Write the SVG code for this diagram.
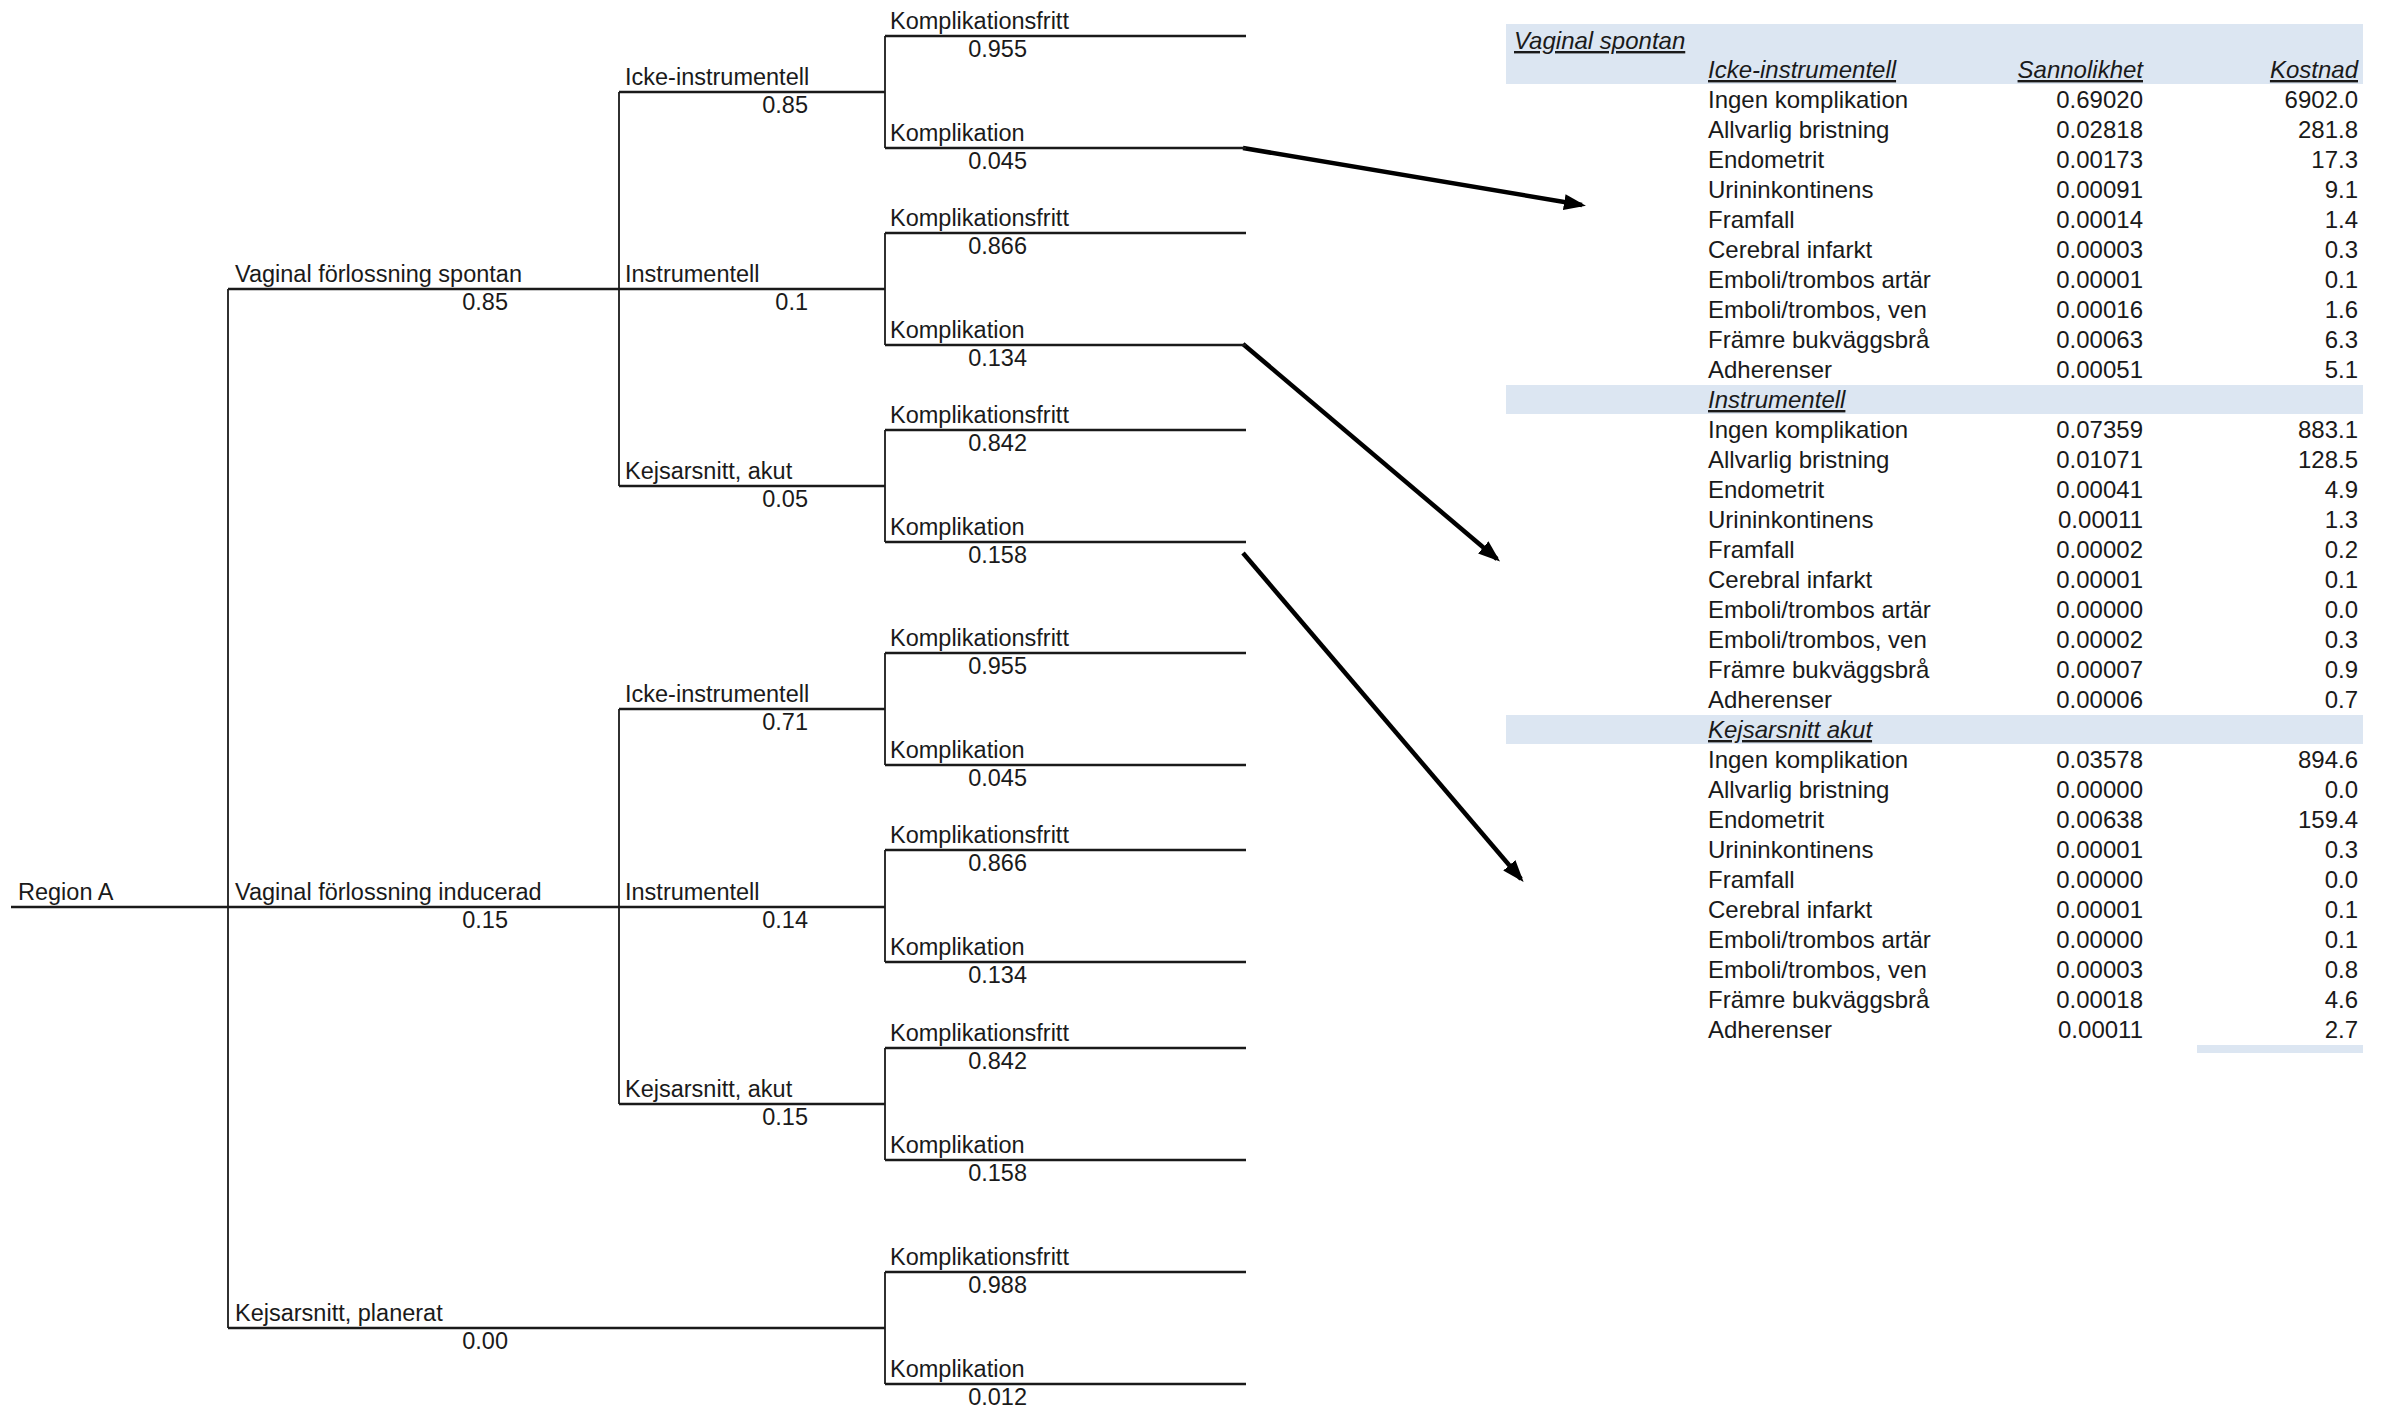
<svg xmlns="http://www.w3.org/2000/svg" width="2386" height="1409" viewBox="0 0 2386 1409">
<style>
.t{font-family:"Liberation Sans",Arial,sans-serif;font-size:23.5px;fill:#1a1a1a}
.v{font-family:"Liberation Sans",Arial,sans-serif;font-size:23.5px;fill:#1a1a1a;text-anchor:end}
.h{stroke:#1a1a1a;stroke-width:2.5;fill:none}
.vl{stroke:#1a1a1a;stroke-width:1.8;fill:none}
.tb{font-family:"Liberation Sans",Arial,sans-serif;font-size:24px;fill:#1a1a1a}
.tn{font-family:"Liberation Sans",Arial,sans-serif;font-size:24px;fill:#1a1a1a;text-anchor:end}
.hd{font-style:italic;text-decoration:underline}
.band{fill:#dce6f2}
.arr{stroke:#000;stroke-width:4.5;fill:none}
</style>
<defs>
<marker id="ah" markerUnits="userSpaceOnUse" markerWidth="22" markerHeight="16" viewBox="0 0 22 16" refX="18" refY="8" orient="auto">
<path d="M0,0 L22,8 L0,16 z" fill="#000"/>
</marker>
<clipPath id="lbl"><rect x="1700" y="0" width="240" height="1409"/></clipPath>
</defs>
<rect width="2386" height="1409" fill="#fff"/>

<g id="connectors">
<!-- level 1 -->
<line class="vl" x1="228" y1="289" x2="228" y2="1328"/>
<!-- level 2 -->
<line class="vl" x1="619" y1="92" x2="619" y2="486"/>
<line class="vl" x1="619" y1="709" x2="619" y2="1104"/>
<!-- level 3 verticals -->
<line class="vl" x1="885" y1="36" x2="885" y2="148"/>
<line class="vl" x1="885" y1="233" x2="885" y2="345"/>
<line class="vl" x1="885" y1="430" x2="885" y2="542"/>
<line class="vl" x1="885" y1="653" x2="885" y2="765"/>
<line class="vl" x1="885" y1="850" x2="885" y2="962"/>
<line class="vl" x1="885" y1="1048" x2="885" y2="1160"/>
<line class="vl" x1="885" y1="1272" x2="885" y2="1384"/>
<!-- arrows -->
<line class="arr" x1="1243" y1="148" x2="1582" y2="205" marker-end="url(#ah)"/>
<line class="arr" x1="1243" y1="344" x2="1497" y2="559" marker-end="url(#ah)"/>
<line class="arr" x1="1243" y1="553" x2="1521" y2="879" marker-end="url(#ah)"/>
</g>

<g id="root">
<line class="h" x1="11" y1="907" x2="228" y2="907"/>
<text class="t" x="18" y="900">Region A</text>
</g>

<g id="n-vag-spontan">
<line class="h" x1="228" y1="289" x2="619" y2="289"/>
<text class="t" x="235" y="282">Vaginal förlossning spontan</text>
<text class="v" x="508" y="310">0.85</text>
</g>
<g id="n-vag-inducerad">
<line class="h" x1="228" y1="907" x2="619" y2="907"/>
<text class="t" x="235" y="900">Vaginal förlossning inducerad</text>
<text class="v" x="508" y="928">0.15</text>
</g>
<g id="n-kejs-planerat">
<line class="h" x1="228" y1="1328" x2="885" y2="1328"/>
<text class="t" x="235" y="1321">Kejsarsnitt, planerat</text>
<text class="v" x="508" y="1349">0.00</text>
</g>

<g id="n-s-icke">
<line class="h" x1="619" y1="92" x2="885" y2="92"/>
<text class="t" x="625" y="85">Icke-instrumentell</text>
<text class="v" x="808" y="113">0.85</text>
</g>
<g id="n-s-instr">
<line class="h" x1="619" y1="289" x2="885" y2="289"/>
<text class="t" x="625" y="282">Instrumentell</text>
<text class="v" x="808" y="310">0.1</text>
</g>
<g id="n-s-kejs">
<line class="h" x1="619" y1="486" x2="885" y2="486"/>
<text class="t" x="625" y="479">Kejsarsnitt, akut</text>
<text class="v" x="808" y="507">0.05</text>
</g>
<g id="n-i-icke">
<line class="h" x1="619" y1="709" x2="885" y2="709"/>
<text class="t" x="625" y="702">Icke-instrumentell</text>
<text class="v" x="808" y="730">0.71</text>
</g>
<g id="n-i-instr">
<line class="h" x1="619" y1="907" x2="885" y2="907"/>
<text class="t" x="625" y="900">Instrumentell</text>
<text class="v" x="808" y="928">0.14</text>
</g>
<g id="n-i-kejs">
<line class="h" x1="619" y1="1104" x2="885" y2="1104"/>
<text class="t" x="625" y="1097">Kejsarsnitt, akut</text>
<text class="v" x="808" y="1125">0.15</text>
</g>

<g id="leaf-1a"><line class="h" x1="885" y1="36" x2="1246" y2="36"/><text class="t" x="890" y="29">Komplikationsfritt</text><text class="v" x="1027" y="57">0.955</text></g>
<g id="leaf-1b"><line class="h" x1="885" y1="148" x2="1246" y2="148"/><text class="t" x="890" y="141">Komplikation</text><text class="v" x="1027" y="169">0.045</text></g>
<g id="leaf-2a"><line class="h" x1="885" y1="233" x2="1246" y2="233"/><text class="t" x="890" y="226">Komplikationsfritt</text><text class="v" x="1027" y="254">0.866</text></g>
<g id="leaf-2b"><line class="h" x1="885" y1="345" x2="1246" y2="345"/><text class="t" x="890" y="338">Komplikation</text><text class="v" x="1027" y="366">0.134</text></g>
<g id="leaf-3a"><line class="h" x1="885" y1="430" x2="1246" y2="430"/><text class="t" x="890" y="423">Komplikationsfritt</text><text class="v" x="1027" y="451">0.842</text></g>
<g id="leaf-3b"><line class="h" x1="885" y1="542" x2="1246" y2="542"/><text class="t" x="890" y="535">Komplikation</text><text class="v" x="1027" y="563">0.158</text></g>
<g id="leaf-4a"><line class="h" x1="885" y1="653" x2="1246" y2="653"/><text class="t" x="890" y="646">Komplikationsfritt</text><text class="v" x="1027" y="674">0.955</text></g>
<g id="leaf-4b"><line class="h" x1="885" y1="765" x2="1246" y2="765"/><text class="t" x="890" y="758">Komplikation</text><text class="v" x="1027" y="786">0.045</text></g>
<g id="leaf-5a"><line class="h" x1="885" y1="850" x2="1246" y2="850"/><text class="t" x="890" y="843">Komplikationsfritt</text><text class="v" x="1027" y="871">0.866</text></g>
<g id="leaf-5b"><line class="h" x1="885" y1="962" x2="1246" y2="962"/><text class="t" x="890" y="955">Komplikation</text><text class="v" x="1027" y="983">0.134</text></g>
<g id="leaf-6a"><line class="h" x1="885" y1="1048" x2="1246" y2="1048"/><text class="t" x="890" y="1041">Komplikationsfritt</text><text class="v" x="1027" y="1069">0.842</text></g>
<g id="leaf-6b"><line class="h" x1="885" y1="1160" x2="1246" y2="1160"/><text class="t" x="890" y="1153">Komplikation</text><text class="v" x="1027" y="1181">0.158</text></g>
<g id="leaf-7a"><line class="h" x1="885" y1="1272" x2="1246" y2="1272"/><text class="t" x="890" y="1265">Komplikationsfritt</text><text class="v" x="1027" y="1293">0.988</text></g>
<g id="leaf-7b"><line class="h" x1="885" y1="1384" x2="1246" y2="1384"/><text class="t" x="890" y="1377">Komplikation</text><text class="v" x="1027" y="1405">0.012</text></g>

<g id="table">
<rect class="band" x="1506" y="24" width="857" height="60"/>
<rect class="band" x="1506" y="385" width="857" height="29"/>
<rect class="band" x="1506" y="715" width="857" height="29"/>
<rect class="band" x="2197" y="1045" width="166" height="8"/>
<text class="tb hd" x="1514" y="49">Vaginal spontan</text>
<text class="tb hd" x="1708" y="78">Icke-instrumentell</text>
<text class="tn hd" x="2143" y="78">Sannolikhet</text>
<text class="tn hd" x="2358" y="78">Kostnad</text>
<g clip-path="url(#lbl)">
<text class="tb" x="1708" y="108">Ingen komplikation</text>
<text class="tb" x="1708" y="138">Allvarlig bristning</text>
<text class="tb" x="1708" y="168">Endometrit</text>
<text class="tb" x="1708" y="198">Urininkontinens</text>
<text class="tb" x="1708" y="228">Framfall</text>
<text class="tb" x="1708" y="258">Cerebral infarkt</text>
<text class="tb" x="1708" y="288">Emboli/trombos artär</text>
<text class="tb" x="1708" y="318">Emboli/trombos, ven</text>
<text class="tb" x="1708" y="348">Främre bukväggsbrå</text>
<text class="tb" x="1708" y="378">Adherenser</text>
</g>
<text class="tn" x="2143" y="108">0.69020</text><text class="tn" x="2358" y="108">6902.0</text>
<text class="tn" x="2143" y="138">0.02818</text><text class="tn" x="2358" y="138">281.8</text>
<text class="tn" x="2143" y="168">0.00173</text><text class="tn" x="2358" y="168">17.3</text>
<text class="tn" x="2143" y="198">0.00091</text><text class="tn" x="2358" y="198">9.1</text>
<text class="tn" x="2143" y="228">0.00014</text><text class="tn" x="2358" y="228">1.4</text>
<text class="tn" x="2143" y="258">0.00003</text><text class="tn" x="2358" y="258">0.3</text>
<text class="tn" x="2143" y="288">0.00001</text><text class="tn" x="2358" y="288">0.1</text>
<text class="tn" x="2143" y="318">0.00016</text><text class="tn" x="2358" y="318">1.6</text>
<text class="tn" x="2143" y="348">0.00063</text><text class="tn" x="2358" y="348">6.3</text>
<text class="tn" x="2143" y="378">0.00051</text><text class="tn" x="2358" y="378">5.1</text>

<text class="tb hd" x="1708" y="408">Instrumentell</text>
<g clip-path="url(#lbl)">
<text class="tb" x="1708" y="438">Ingen komplikation</text>
<text class="tb" x="1708" y="468">Allvarlig bristning</text>
<text class="tb" x="1708" y="498">Endometrit</text>
<text class="tb" x="1708" y="528">Urininkontinens</text>
<text class="tb" x="1708" y="558">Framfall</text>
<text class="tb" x="1708" y="588">Cerebral infarkt</text>
<text class="tb" x="1708" y="618">Emboli/trombos artär</text>
<text class="tb" x="1708" y="648">Emboli/trombos, ven</text>
<text class="tb" x="1708" y="678">Främre bukväggsbrå</text>
<text class="tb" x="1708" y="708">Adherenser</text>
</g>
<text class="tn" x="2143" y="438">0.07359</text><text class="tn" x="2358" y="438">883.1</text>
<text class="tn" x="2143" y="468">0.01071</text><text class="tn" x="2358" y="468">128.5</text>
<text class="tn" x="2143" y="498">0.00041</text><text class="tn" x="2358" y="498">4.9</text>
<text class="tn" x="2143" y="528">0.00011</text><text class="tn" x="2358" y="528">1.3</text>
<text class="tn" x="2143" y="558">0.00002</text><text class="tn" x="2358" y="558">0.2</text>
<text class="tn" x="2143" y="588">0.00001</text><text class="tn" x="2358" y="588">0.1</text>
<text class="tn" x="2143" y="618">0.00000</text><text class="tn" x="2358" y="618">0.0</text>
<text class="tn" x="2143" y="648">0.00002</text><text class="tn" x="2358" y="648">0.3</text>
<text class="tn" x="2143" y="678">0.00007</text><text class="tn" x="2358" y="678">0.9</text>
<text class="tn" x="2143" y="708">0.00006</text><text class="tn" x="2358" y="708">0.7</text>

<text class="tb hd" x="1708" y="738">Kejsarsnitt akut</text>
<g clip-path="url(#lbl)">
<text class="tb" x="1708" y="768">Ingen komplikation</text>
<text class="tb" x="1708" y="798">Allvarlig bristning</text>
<text class="tb" x="1708" y="828">Endometrit</text>
<text class="tb" x="1708" y="858">Urininkontinens</text>
<text class="tb" x="1708" y="888">Framfall</text>
<text class="tb" x="1708" y="918">Cerebral infarkt</text>
<text class="tb" x="1708" y="948">Emboli/trombos artär</text>
<text class="tb" x="1708" y="978">Emboli/trombos, ven</text>
<text class="tb" x="1708" y="1008">Främre bukväggsbrå</text>
<text class="tb" x="1708" y="1038">Adherenser</text>
</g>
<text class="tn" x="2143" y="768">0.03578</text><text class="tn" x="2358" y="768">894.6</text>
<text class="tn" x="2143" y="798">0.00000</text><text class="tn" x="2358" y="798">0.0</text>
<text class="tn" x="2143" y="828">0.00638</text><text class="tn" x="2358" y="828">159.4</text>
<text class="tn" x="2143" y="858">0.00001</text><text class="tn" x="2358" y="858">0.3</text>
<text class="tn" x="2143" y="888">0.00000</text><text class="tn" x="2358" y="888">0.0</text>
<text class="tn" x="2143" y="918">0.00001</text><text class="tn" x="2358" y="918">0.1</text>
<text class="tn" x="2143" y="948">0.00000</text><text class="tn" x="2358" y="948">0.1</text>
<text class="tn" x="2143" y="978">0.00003</text><text class="tn" x="2358" y="978">0.8</text>
<text class="tn" x="2143" y="1008">0.00018</text><text class="tn" x="2358" y="1008">4.6</text>
<text class="tn" x="2143" y="1038">0.00011</text><text class="tn" x="2358" y="1038">2.7</text>
</g>
</svg>
